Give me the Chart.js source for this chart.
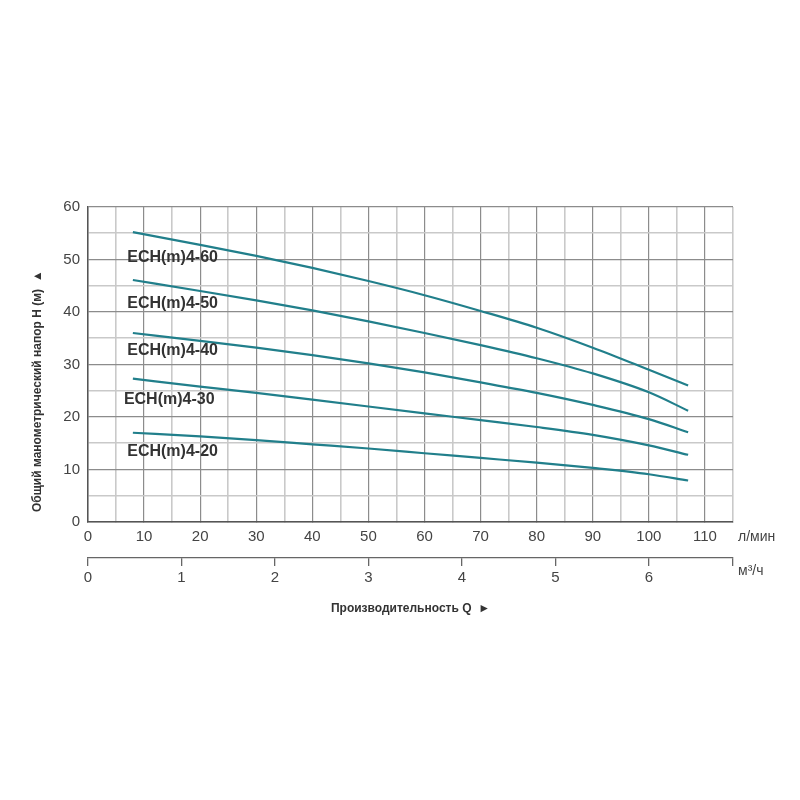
<!DOCTYPE html>
<html>
<head>
<meta charset="utf-8">
<script src="https://cdn.jsdelivr.net/npm/chart.js@4/dist/chart.umd.min.js"></script>
<style>
  html, body { margin: 0; padding: 0; background: #ffffff; }
  #wrap { width: 800px; height: 800px; }
</style>
</head>
<body>
<div id="wrap"><canvas id="c" width="800" height="800"></canvas></div>
<script>
// ---- data (flow Q in л/мин, head H in м) ----
const flowLpm = [8, 20, 30, 40, 50, 60, 70, 80, 90, 100, 107];
const seriesNames = ['ECH(m)4-60', 'ECH(m)4-50', 'ECH(m)4-40', 'ECH(m)4-30', 'ECH(m)4-20'];
const head60 = [55.2, 52.8, 50.7, 48.4, 45.9, 43.2, 40.2, 37.0, 33.2, 29.0, 26.0];
const head50 = [46.1, 44.0, 42.2, 40.3, 38.2, 36.0, 33.7, 31.2, 28.3, 24.7, 21.2];
const head40 = [36.0, 34.5, 33.2, 31.8, 30.2, 28.5, 26.6, 24.6, 22.3, 19.6, 17.1];
const head30 = [27.3, 25.8, 24.6, 23.3, 22.0, 20.7, 19.4, 18.1, 16.6, 14.6, 12.8];
const head20 = [17.0, 16.3, 15.6, 14.8, 14.0, 13.1, 12.2, 11.3, 10.3, 9.1, 7.9];
// label anchors (data coordinates: Q л/мин, H м)
const labelQ = [7.0, 7.0, 7.0, 6.4, 7.0];
const labelH = [50.4, 41.6, 32.7, 23.3, 13.4];
// axis ranges / ticks
const qMaxLpm = 115;
const hMax = 60;
const m3hTicks = [0, 1, 2, 3, 4, 5, 6];
const yTitle = '   Общий манометрический напор H (м)  ▲';
const xTitle = 'Производительность Q  ►';
const unitLpm = 'л/мин';
const unitM3h = 'м³/ч';

const heads = [head60, head50, head40, head30, head20];
const curveColor = '#217f8b';

const datasets = heads.map((h, i) => ({
  label: seriesNames[i],
  data: flowLpm.map((q, j) => ({ x: q, y: h[j] })),
  borderColor: curveColor,
  borderWidth: 2.2,
  pointRadius: 0,
  cubicInterpolationMode: 'monotone',
  fill: false
}));

const FONT = "'Liberation Sans', Arial, 'DejaVu Sans', sans-serif";
const NARROW = "'Liberation Sans Narrow', 'Liberation Sans', Arial, sans-serif";

const textPlugin = {
  id: 'extraText',
  afterDatasetsDraw(chart) {
    const ctx = chart.ctx;
    const xs = chart.scales.x, ys = chart.scales.y, x2 = chart.scales.x2;
    ctx.save();
    // curve labels
    ctx.font = 'bold 16px ' + FONT;
    ctx.fillStyle = '#333333';
    ctx.textAlign = 'left';
    ctx.textBaseline = 'middle';
    seriesNames.forEach((n, i) => {
      ctx.fillText(n, xs.getPixelForValue(labelQ[i]), ys.getPixelForValue(labelH[i]));
    });
    // unit labels
    ctx.font = '14px ' + NARROW;
    ctx.fillStyle = '#444444';
    ctx.fillText(unitLpm, chart.chartArea.right + 5, xs.top + 15);
    ctx.fillText(unitM3h, chart.chartArea.right + 5, x2.top + 13);
    ctx.restore();
  }
};

new Chart(document.getElementById('c'), {
  type: 'line',
  data: { datasets },
  options: {
    responsive: false,
    animation: false,
    devicePixelRatio: 1,
    layout: { padding: { left: 26, right: 67, top: 207, bottom: 184 } },
    plugins: { legend: { display: false }, tooltip: { enabled: false } },
    scales: {
      x: {
        type: 'linear', position: 'bottom', weight: 0,
        min: 0, max: qMaxLpm,
        ticks: {
          stepSize: 5, autoSkip: false, maxRotation: 0, padding: 6,
          color: '#444444', font: { family: FONT, size: 15 },
          callback: v => (v % 10 === 0 && v <= 110) ? String(v) : ''
        },
        grid: {
          tickLength: 0,
          color: c => (c.tick && c.tick.value % 10 === 0) ? '#8c8c8c' : '#c9c9c9',
          lineWidth: c => (c.tick && c.tick.value % 10 === 0) ? 1.2 : 1.6
        },
        border: { color: '#555555', width: 1.5 },
        afterFit: s => { s.height = 36; }
      },
      x2: {
        type: 'linear', position: 'bottom', weight: 1,
        min: 0, max: qMaxLpm * 60 / 1000,
        afterBuildTicks: s => {
          s.ticks = m3hTicks.map(v => ({ value: v })).concat([{ value: qMaxLpm * 60 / 1000 }]);
        },
        ticks: {
          autoSkip: false, maxRotation: 0, padding: 3,
          color: '#444444', font: { family: FONT, size: 15 },
          callback: v => Number.isInteger(v) ? String(v) : ''
        },
        grid: { drawOnChartArea: false, tickLength: 8, color: '#666666', lineWidth: 1.3 },
        border: { color: '#666666', width: 1.3 },
        title: {
          display: true, text: xTitle, color: '#333333',
          font: { family: NARROW, size: 12, weight: 'bold' },
          padding: { top: 12, bottom: 0 }
        },
        afterFit: s => { s.height = 58; }
      },
      y: {
        type: 'linear', min: 0, max: hMax,
        ticks: {
          stepSize: 5, autoSkip: false, padding: 8,
          color: '#444444', font: { family: FONT, size: 15 },
          callback: v => (v % 10 === 0) ? String(v) : ''
        },
        grid: {
          tickLength: 0,
          color: c => (c.tick && c.tick.value % 10 === 0) ? '#8c8c8c' : '#c9c9c9',
          lineWidth: c => (c.tick && c.tick.value % 10 === 0) ? 1.2 : 1.6
        },
        border: { color: '#555555', width: 1.5 },
        title: {
          display: true, text: yTitle, color: '#333333', align: 'start',
          font: { family: NARROW, size: 12, weight: 'bold' },
          padding: { top: 4, bottom: 0 }
        },
        afterFit: s => { s.width = 62; }
      }
    }
  },
  plugins: [textPlugin]
});
</script>
</body>
</html>
